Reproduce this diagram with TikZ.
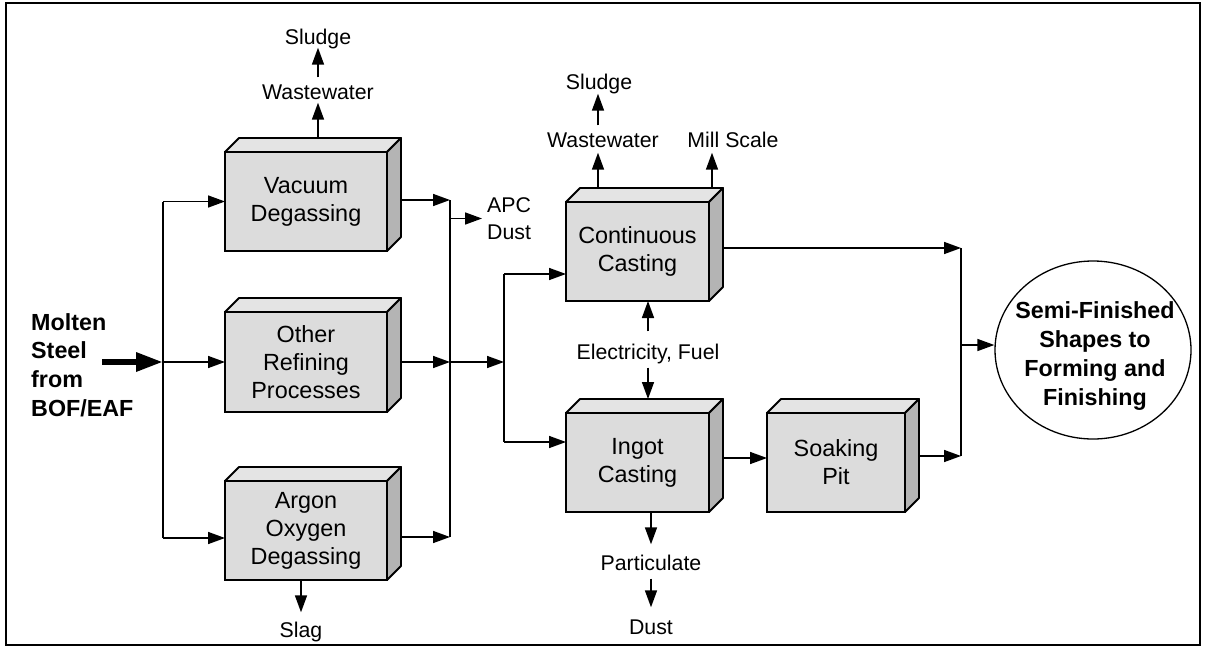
\documentclass[tikz,border=0pt]{standalone}
\usepackage{fontspec}
\setmainfont{Liberation Sans}
\usetikzlibrary{arrows.meta,calc,shapes.geometric}
\definecolor{frontgray}{HTML}{DCDCDC}
\definecolor{topgray}{HTML}{E4E4E4}
\definecolor{sidegray}{HTML}{B4B4B4}
\newcommand\boxfaces[1]{%
  \filldraw[fill=topgray, line width=1.8pt, line join=round] (#1.north west) -- ++(14,-14) -- ([shift={(14,-14)}]#1.north east) -- (#1.north east) -- cycle;
  \filldraw[fill=sidegray, line width=1.8pt, line join=round] (#1.north east) -- ++(14,-14) -- ([shift={(14,-14)}]#1.south east) -- (#1.south east) -- cycle;}
\begin{document}
\begin{tikzpicture}[x=1pt,y=-1pt,
  arr/.style={-{Triangle[length=17pt,width=12pt]}, line width=1.6pt},
  wire/.style={line width=1.6pt},
  proc/.style={draw, fill=frontgray, line width=1.8pt, minimum width=162pt, minimum height=99pt, inner sep=0pt, outer sep=0pt, align=center, font=\fontsize{23.4}{28}\selectfont},
  lab/.style={inner sep=0pt, text height=15pt, text depth=0pt, font=\fontsize{21.3}{25}\selectfont},
  boldtxt/.style={inner sep=0pt, font=\bfseries\fontsize{23.3}{28.8}\selectfont}]
\useasboundingbox (0,0) rectangle (1207,648);
\draw[line width=1.5pt] (6,3) rectangle (1200,645);

% process boxes
\node[proc] (vac) at (306,201.5) {Vacuum\\Degassing};
\boxfaces{vac}
\node[proc, minimum height=100pt] (other) at (306,362) {Other\\Refining\\Processes};
\boxfaces{other}
\node[proc] (argon) at (306,530.5) {Argon\\Oxygen\\Degassing};
\boxfaces{argon}
\node[proc, minimum width=143pt] (cc) at (637.5,251.5) {Continuous\\Casting};
\boxfaces{cc}
\node[proc, minimum width=143pt] (ingot) at (637.5,462.5) {Ingot\\Casting};
\boxfaces{ingot}
\node[proc, minimum width=138pt] (soak) at (836,462.5) {Soaking\\Pit};
\boxfaces{soak}

% ellipse
\node[draw, ellipse, line width=1.3pt, minimum width=196pt, minimum height=178pt, inner sep=0pt] (ell) at (1093,350) {};
\node[boldtxt, align=center] (ellT) at (1095,356) {Semi-Finished\\Shapes to\\Forming and\\Finishing};

% input
\node[boldtxt, anchor=west, align=left] (molten) at (31,365) {Molten\\Steel\\from\\BOF/EAF};
\coordinate (mstart) at (102,362);
\coordinate (jL) at (163,362);
\coordinate (jR) at (450,362);
\coordinate (jM) at (504,362);
\coordinate (jE) at (961,345);
\draw[line width=6pt, -{Triangle[length=27pt,width=18pt]}] (mstart) -- (jL);

% left split
\coordinate (argonIn) at ([yshift=-7.5pt]argon.west);
\draw[wire] (jL |- vac.west) -- (jL |- argonIn);
\draw[arr] (jL |- vac.west) -- (vac.west);
\draw[arr] (jL) -- (other.west);
\draw[arr] (jL |- argonIn) -- (argonIn);

% right merge
\coordinate (vacOut) at ([xshift=14pt,yshift=1.5pt]vac.east);
\coordinate (otherOut) at ([xshift=14pt]other.east);
\coordinate (argonOut) at ([xshift=14pt,yshift=-6.5pt]argon.east);
\draw[wire] (jR |- vacOut) -- (jR |- argonOut);
\draw[arr] (vacOut) -- (jR |- vacOut);
\draw[arr] (otherOut) -- (jR);
\draw[arr] (argonOut) -- (jR |- argonOut);
\node[inner sep=0pt, anchor=west, align=left, font=\fontsize{21.3}{27}\selectfont] (apc) at (487,218.5) {APC\\Dust};
\draw[arr] (jR |- apc.west) -- ([xshift=-5pt]apc.west);

% vacuum outputs
\node[lab] (ww1) at (318,92) {Wastewater};
\node[lab] (sl1) at (318,37) {Sludge};
\draw[arr] ([xshift=12pt,yshift=14pt]vac.north) -- ($(ww1.south)+(0,3)$);
\draw[arr] ($(ww1.north)+(0,-7)$) -- ($(sl1.south)+(0,3)$);

% argon output
\node[lab] (slag) at (301,630) {Slag};
\draw[arr] ([xshift=-5pt]argon.south) -- ($(slag.north)+(0,-10)$);

% to casting
\draw[arr] (jR) -- (jM);
\coordinate (ccIn) at ([yshift=-22.5pt]cc.west);
\coordinate (ingIn) at ([yshift=20.5pt]ingot.west);
\draw[wire] (jM |- ccIn) -- (jM |- ingIn);
\draw[arr] (jM |- ccIn) -- (ccIn);
\draw[arr] (jM |- ingIn) -- (ingIn);

% continuous casting outputs
\coordinate (cwStart) at ([xshift=-39.5pt,yshift=14pt]cc.north);
\coordinate (cmStart) at ([xshift=3pt,yshift=14pt]cc.north east);
\node[lab] (ww2) at (603,140) {Wastewater};
\node[lab] (sl2) at (599,82) {Sludge};
\node[lab] (mill) at (733,140) {Mill Scale};
\draw[arr] (cwStart) -- ($(ww2.south -| cwStart)+(0,5)$);
\draw[arr] ($(ww2.north -| cwStart)+(0,-7)$) -- ($(sl2.south -| cwStart)+(0,4)$);
\draw[arr] (cmStart) -- ($(mill.south -| cmStart)+(0,5)$);

% electricity
\node[lab] (ele) at (648,352) {Electricity, Fuel};
\draw[arr] ($(ele.north)+(0,-13)$) -- (ele.north |- cc.south);
\draw[arr] ($(ele.south)+(0,8)$) -- ($(ele.south |- ingot.north)+(0,-14)$);

% ingot outputs
\node[lab] (part) at (651,563) {Particulate};
\node[lab] (dust) at (651,627) {Dust};
\draw[arr] (ingot.south -| part) -- ($(part.north)+(0,-11)$);
\draw[arr] ($(part.south)+(0,8)$) -- ($(dust.north)+(0,-12)$);

% ingot to soaking
\coordinate (ingOut) at ([xshift=14pt,yshift=4.5pt]ingot.east);
\draw[arr] (ingOut) -- (ingOut -| soak.west);

% to final
\coordinate (ccOut) at ([xshift=14pt,yshift=3.5pt]cc.east);
\coordinate (soakOut) at ([xshift=14pt,yshift=6.5pt]soak.east);
\draw[wire] (jE |- ccOut) -- (jE |- soakOut);
\draw[arr] (ccOut) -- (jE |- ccOut);
\draw[arr] (soakOut) -- (jE |- soakOut);
\draw[arr] (jE) -- (jE -| ell.west);
\end{tikzpicture}
\end{document}
